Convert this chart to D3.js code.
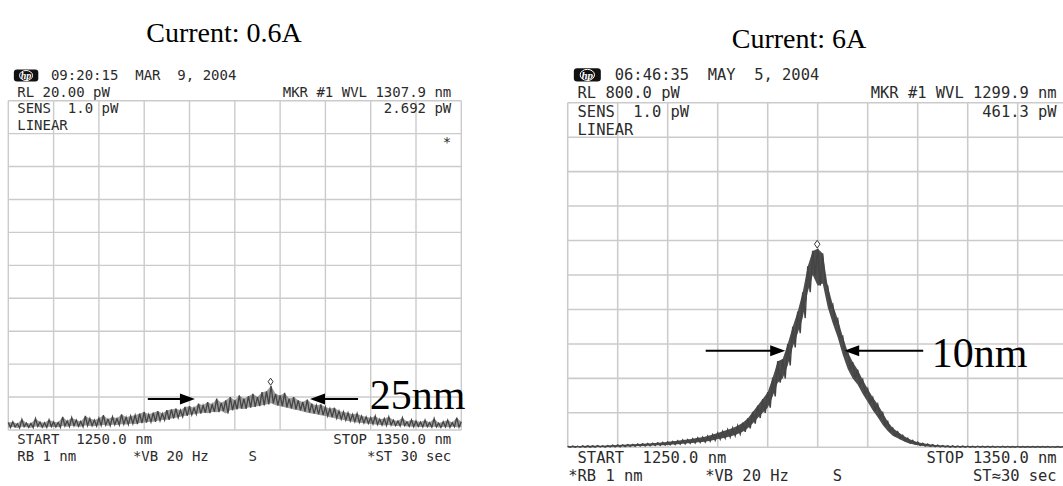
<!DOCTYPE html>
<html>
<head>
<meta charset="utf-8">
<script src="https://cdn.jsdelivr.net/npm/d3@7"></script>
<style>
  body { margin: 0; background: #fff; }
  svg { display: block; }
  .osa { font-family: "DejaVu Sans Mono", monospace; fill: #2b2b2b; white-space: pre; }
  .serif { font-family: "Liberation Serif", "Times New Roman", serif; fill: #000; }
</style>
</head>
<body>
<svg width="1063" height="486"></svg>
<script>
// sweep of the optical spectrum analyser, 1 nm per sample
const startNm = 1250;
const stopNm = 1350;
const wavelengthNm = d3.range(startNm, stopNm + 1);

// 0.6 A trace, pW (low / high edge of the noisy trace)
const lowCurrentLo = [
  0.15, 0.18, 0.12, 0.2, 0.16, 0.14, 0.22, 0.17, 0.15, 0.2,
  0.18, 0.16, 0.24, 0.2, 0.26, 0.22, 0.19, 0.27, 0.25, 0.23,
  0.28, 0.3, 0.26, 0.32, 0.3, 0.35, 0.33, 0.38, 0.36, 0.42,
  0.45, 0.48, 0.5, 0.56, 0.6, 0.62, 0.7, 0.74, 0.8, 0.86,
  0.92, 0.95, 1.0, 1.05, 1.02, 1.1, 1.08, 1.15, 1.0, 1.2,
  1.25, 1.3, 1.28, 1.36, 1.4, 1.45, 1.5, 1.55, 1.62, 1.5,
  1.45, 1.38, 1.32, 1.25, 1.2, 1.12, 1.05, 1.0, 0.95, 0.9,
  0.85, 0.78, 0.72, 0.66, 0.6, 0.55, 0.5, 0.46, 0.42, 0.4,
  0.36, 0.33, 0.3, 0.28, 0.3, 0.26, 0.24, 0.27, 0.22, 0.2,
  0.21, 0.18, 0.2, 0.17, 0.19, 0.15, 0.18, 0.16, 0.2, 0.17, 0.18
];
const lowCurrentHi = [
  0.45, 0.5, 0.38, 0.65, 0.42, 0.4, 0.7, 0.48, 0.44, 0.62,
  0.5, 0.46, 0.8, 0.55, 0.75, 0.6, 0.52, 0.85, 0.7, 0.6,
  0.72, 0.9, 0.65, 0.8, 0.7, 0.95, 0.78, 0.85, 0.9, 1.0,
  1.1, 0.95, 1.05, 1.15, 1.0, 1.2, 1.25, 1.3, 1.2, 1.4,
  1.45, 1.35, 1.6, 1.5, 1.7, 1.55, 1.9, 1.65, 1.8, 2.0,
  1.8, 2.1, 1.9, 2.05, 2.2, 2.0, 2.3, 2.35, 2.69, 2.2,
  2.1, 2.25, 1.9, 2.0, 1.8, 1.7, 1.85, 1.6, 1.5, 1.55,
  1.4, 1.3, 1.35, 1.15, 1.1, 1.05, 0.95, 1.0, 0.85, 0.8,
  0.75, 0.85, 0.65, 0.7, 0.8, 0.6, 0.55, 0.75, 0.5, 0.62,
  0.55, 0.48, 0.6, 0.45, 0.7, 0.42, 0.5, 0.6, 0.45, 0.75, 0.5
];

// 6 A trace, pW
const highCurrentLo = [
  0, 0.2, 0, 0.3, 0.4, 0.3, 0.6, 0.5, 0.8, 1.0,
  1.2, 1.6, 2.0, 2.2, 2.8, 3.0, 3.6, 4.0, 4.5, 5.0,
  5.5, 6.4, 7.2, 8.0, 9.2, 10.2, 11.5, 12.4, 14, 16.5,
  19, 21, 24, 27, 31, 36, 44, 55, 68, 80,
  92, 118, 150, 160, 190, 232, 265, 300, 360, 400,
  375, 380, 325, 288, 255, 215, 182, 160, 145, 124,
  105, 86, 70, 52, 38, 27, 21, 15, 10, 7,
  4.5, 3, 2, 1.5, 1, 0.6, 0.4, 0.3, 0.2, 0.2,
  0.1, 0, 0.1, 0, 0, 0, 0, 0, 0, 0,
  0, 0, 0, 0, 0, 0, 0, 0, 0, 0, 0
];
const highCurrentHi = [
  2.5, 3.0, 2.6, 3.2, 3.5, 3.4, 3.8, 3.6, 4.2, 4.8,
  5.4, 5.8, 6.4, 6.8, 7.6, 8.2, 9.0, 9.4, 10.5, 11.4,
  12.6, 13.8, 15.0, 17.2, 18.0, 20.0, 22.0, 23.5, 26, 29.5,
  33, 37, 41, 45, 50, 57, 67, 82, 97, 112,
  128, 162, 200, 205, 240, 280, 315, 360, 420, 456,
  461, 450, 375, 332, 298, 258, 222, 198, 180, 157,
  136, 116, 100, 80, 60, 45, 36, 28, 21, 16,
  12, 9.5, 7.5, 6, 5, 4.2, 3.6, 3.2, 3.0, 2.8,
  2.6, 2.5, 2.6, 2.3, 2.4, 2.2, 2.1, 2.3, 2.0, 1.9,
  2.0, 1.8, 1.9, 1.7, 1.8, 1.7, 1.6, 1.5, 1.7, 1.5, 1.5
];

const titles = ['Current: 0.6A', 'Current: 6A'];
const timeStamps = ['09:20:15  MAR  9, 2004', '06:46:35  MAY  5, 2004'];
const refLevels = [20, 800];            // pW, top of screen
const refLabels = ['RL 20.00 pW', 'RL 800.0 pW'];
const markerNm = [1307.9, 1299.9];
const markerPw = [2.692, 461.3];
const markerLabels = ['MKR #1 WVL 1307.9 nm', 'MKR #1 WVL 1299.9 nm'];
const markerValueLabels = ['2.692 pW', '461.3 pW'];
const bottomLeft = [['START  1250.0 nm', ' RB 1 nm'], ['START  1250.0 nm', '*RB 1 nm']];
const bottomRight = [['STOP 1350.0 nm', '*ST 30 sec'], ['STOP 1350.0 nm', 'ST\u224830 sec']];

// linewidth annotations: arrow tails, arrow tips, level, label
const arrowTailNm = [[1280.8, 1327.2], [1277.6, 1321.1]];
const arrowTipNm = [[1291.2, 1316.6], [1293.5, 1305.3]];
const arrowLevelPw = [1.88, 224];
const widthLabels = ['25nm', '10nm'];
const widthLabelNm = [1329.8, 1322.8];
const widthLabelPw = [1.27, 187];

const svg = d3.select('svg');

const drawPanel = (i, cfg) => {
  const { gx, gy, gw, gh, s, lo, hi, fillOpacity, titleX, titleY } = cfg;
  const x = d3.scaleLinear().domain([startNm, stopNm]).range([gx, gx + gw]);
  const y = d3.scaleLinear().domain([0, refLevels[i]]).range([gy + gh, gy]);
  const g = svg.append('g');

  const fs = 14 * s;
  const pitch = fs * 0.602;
  const row = 16.7 * s;
  const colX = c => gx + 0.5 * s + c * pitch;
  const rightX = gx + gw - 10 * s;

  // graticule
  const xGrid = d3.range(11).map(k => startNm + k * (stopNm - startNm) / 10);
  const yGrid = d3.range(11).map(k => k * refLevels[i] / 10);
  g.selectAll('line.v').data(xGrid).join('line')
    .attr('class', 'v')
    .attr('x1', x).attr('x2', x)
    .attr('y1', gy).attr('y2', gy + gh)
    .attr('stroke', '#cbcbcb').attr('stroke-width', 1.4 * s);
  g.selectAll('line.h').data(yGrid).join('line')
    .attr('class', 'h')
    .attr('x1', gx).attr('x2', gx + gw)
    .attr('y1', y).attr('y2', y)
    .attr('stroke', '#cbcbcb').attr('stroke-width', 1.4 * s);

  // trace
  const pts = wavelengthNm.map((w, k) => ({ w, lo: lo[k], hi: hi[k] }));
  g.append('path')
    .attr('d', d3.area().x(d => x(d.w)).y0(d => y(d.lo)).y1(d => y(d.hi))(pts))
    .attr('fill', '#4d4d4d')
    .attr('fill-opacity', fillOpacity);
  const zig = [];
  pts.forEach(d => {
    zig.push([x(d.w), y(d.hi)]);
    zig.push([x(d.w + 0.5), y(d.lo)]);
  });
  g.append('path')
    .attr('d', d3.line()(zig.filter(p => p[0] <= gx + gw)))
    .attr('fill', 'none')
    .attr('stroke', '#444')
    .attr('stroke-width', 1.3 * s);

  // marker diamond
  const mx = x(markerNm[i]);
  const my = y(markerPw[i]) - 4 * s;
  g.append('path')
    .attr('d', `M${mx},${my - 3.5 * s}L${mx + 2.5 * s},${my}L${mx},${my + 3.5 * s}L${mx - 2.5 * s},${my}Z`)
    .attr('fill', '#fff').attr('stroke', '#333').attr('stroke-width', 1);

  // screen annotations
  const txt = (t, tx, ty, anchor) => g.append('text')
    .attr('class', 'osa')
    .attr('x', tx).attr('y', ty)
    .attr('font-size', fs)
    .attr('text-anchor', anchor || 'start')
    .text(t);

  const rlY = gy - 4 * s;
  const sensY = gy + 12.6 * s;
  const startY = gy + gh + 14 * s;

  // hp logo
  const lx = colX(0.6), lw = 2.9 * pitch;
  g.append('rect')
    .attr('x', lx).attr('y', rlY - row - 10.5 * s)
    .attr('width', lw).attr('height', 12 * s)
    .attr('rx', 3 * s).attr('fill', '#111');
  g.append('ellipse')
    .attr('cx', lx + lw / 2).attr('cy', rlY - row - 4.5 * s)
    .attr('rx', 6.5 * s).attr('ry', 5 * s)
    .attr('fill', 'none').attr('stroke', '#fff').attr('stroke-width', 1);
  g.append('text')
    .attr('x', lx + lw / 2).attr('y', rlY - row - 1.2 * s)
    .attr('text-anchor', 'middle')
    .attr('font-family', 'Liberation Serif, serif').attr('font-style', 'italic')
    .attr('font-weight', 'bold').attr('font-size', 10 * s)
    .attr('fill', '#fff').text('hp');

  txt(timeStamps[i], colX(5), rlY - row);
  txt(refLabels[i], colX(1), rlY);
  txt(markerLabels[i], rightX, rlY, 'end');
  txt('SENS  1.0 pW', colX(1), sensY);
  txt('LINEAR', colX(1), sensY + row);
  txt(markerValueLabels[i], rightX, sensY, 'end');
  if (i === 0) txt('*', rightX, sensY + 2 * row, 'end');

  txt(bottomLeft[i][0], colX(1), startY);
  txt(bottomLeft[i][1], colX(0), startY + row);
  txt('*VB 20 Hz', gx + 2.75 * gw / 10, startY + row);
  txt('S', gx + 5.3 * gw / 10, startY + row);
  txt(bottomRight[i][0], rightX, startY, 'end');
  txt(bottomRight[i][1], rightX, startY + row, 'end');

  // linewidth arrows
  const ay = y(arrowLevelPw[i]);
  arrowTailNm[i].forEach((t, k) => {
    const x0 = x(t), x1 = x(arrowTipNm[i][k]);
    const dir = Math.sign(x1 - x0);
    g.append('line')
      .attr('x1', x0).attr('x2', x1 - dir * 10)
      .attr('y1', ay).attr('y2', ay)
      .attr('stroke', '#000').attr('stroke-width', 2);
    g.append('path')
      .attr('d', `M${x1},${ay}L${x1 - dir * 15},${ay - 5.5}L${x1 - dir * 15},${ay + 5.5}Z`)
      .attr('fill', '#000');
  });
  g.append('text')
    .attr('class', 'serif')
    .attr('x', x(widthLabelNm[i])).attr('y', y(widthLabelPw[i]))
    .attr('font-size', 42)
    .text(widthLabels[i]);

  g.append('text')
    .attr('class', 'serif')
    .attr('x', titleX).attr('y', titleY)
    .attr('text-anchor', 'middle')
    .attr('font-size', 28)
    .text(titles[i]);
};

drawPanel(0, {
  gx: 8.3, gy: 100.7, gw: 453, gh: 329.3, s: 1,
  lo: lowCurrentLo, hi: lowCurrentHi, fillOpacity: 0.55,
  titleX: 224, titleY: 42
});
drawPanel(1, {
  gx: 567.7, gy: 102.7, gw: 500, gh: 344.6, s: 1.104,
  lo: highCurrentLo, hi: highCurrentHi, fillOpacity: 1,
  titleX: 799, titleY: 48
});
</script>
</body>
</html>
